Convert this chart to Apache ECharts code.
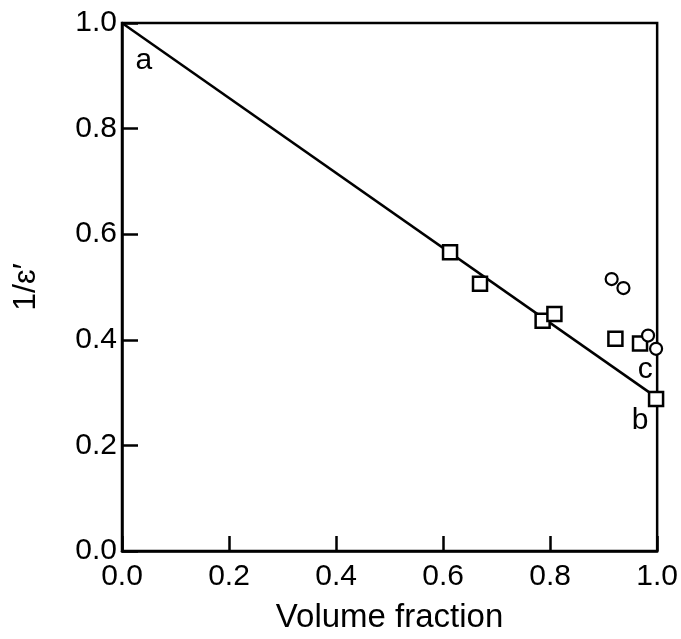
<!DOCTYPE html>
<html>
<head>
<meta charset="utf-8">
<script src="https://cdn.jsdelivr.net/npm/echarts@6/dist/echarts.min.js"></script>
<style>html,body{margin:0;padding:0;background:#fff}#c{width:681px;height:639px}</style>
</head>
<body>
<div id="c"></div>
<script>
var xTicks = [0.0, 0.2, 0.4, 0.6, 0.8, 1.0];
var yTicks = [0.0, 0.2, 0.4, 0.6, 0.8, 1.0];
var fitLine = [[0.0, 1.0], [1.0, 0.29]];
var squares = [[0.613,0.566],[0.669,0.506],[0.786,0.436],[0.808,0.449],[0.922,0.402],[0.968,0.393],[0.998,0.288]];
var circles = [[0.915,0.515],[0.937,0.498],[0.983,0.408],[0.998,0.383]];
var pointLabels = [{name:'a', value:[0.041,0.929]},{name:'b', value:[0.968,0.246]},{name:'c', value:[0.978,0.344]}];

var FONT = '"Liberation Sans", Arial, sans-serif';
var chart = echarts.init(document.getElementById('c'));
chart.setOption({
  animation: false,
  backgroundColor: '#fff',
  grid: {left: 122, top: 23, right: 21, bottom: 84, show: true, borderColor: '#000', borderWidth: 2.5},
  xAxis: {
    type: 'value', min: 0, max: 1, interval: 0.2,
    name: 'Volume fraction', nameLocation: 'middle', nameGap: 50,
    nameTextStyle: {fontFamily: FONT, fontSize: 33, color: '#000'},
    axisLine: {show: true, lineStyle: {color: '#000', width: 2.5}},
    axisTick: {show: true, inside: true, length: 15, lineStyle: {color: '#000', width: 2.5}},
    splitLine: {show: false},
    axisLabel: {fontFamily: FONT, fontSize: 30, color: '#000', margin: 11,
      formatter: function(v){ return xTicks.indexOf(Math.round(v*10)/10) >= 0 ? v.toFixed(1) : ''; }}
  },
  yAxis: {
    type: 'value', min: 0, max: 1, interval: 0.2,
    name: '1/\u025B\u2032', nameLocation: 'middle', nameGap: 80, nameRotate: 90,
    nameTextStyle: {fontFamily: FONT, fontSize: 32, color: '#000'},
    axisLine: {show: true, lineStyle: {color: '#000', width: 2.5}},
    axisTick: {show: true, inside: true, length: 16, lineStyle: {color: '#000', width: 2.5}},
    splitLine: {show: false},
    axisLabel: {fontFamily: FONT, fontSize: 30, color: '#000', margin: 5,
      formatter: function(v){ return yTicks.indexOf(Math.round(v*10)/10) >= 0 ? v.toFixed(1) : ''; }}
  },
  series: [
    {type: 'line', data: fitLine, symbol: 'none', lineStyle: {color: '#000', width: 2.5}, z: 2},
    {type: 'scatter', data: squares, symbol: 'rect', symbolSize: 14,
      itemStyle: {color: '#fff', borderColor: '#000', borderWidth: 2.5, opacity: 1}, z: 3},
    {type: 'scatter', data: circles, symbol: 'circle', symbolSize: 12,
      itemStyle: {color: '#fff', borderColor: '#000', borderWidth: 2.2, opacity: 1}, z: 3},
    {type: 'scatter', data: pointLabels, symbolSize: 0, z: 4, itemStyle: {opacity: 1, color: '#000'},
      label: {show: true, position: 'inside', formatter: '{b}', fontFamily: FONT, fontSize: 30, color: '#000'}}
  ]
});
</script>
</body>
</html>
